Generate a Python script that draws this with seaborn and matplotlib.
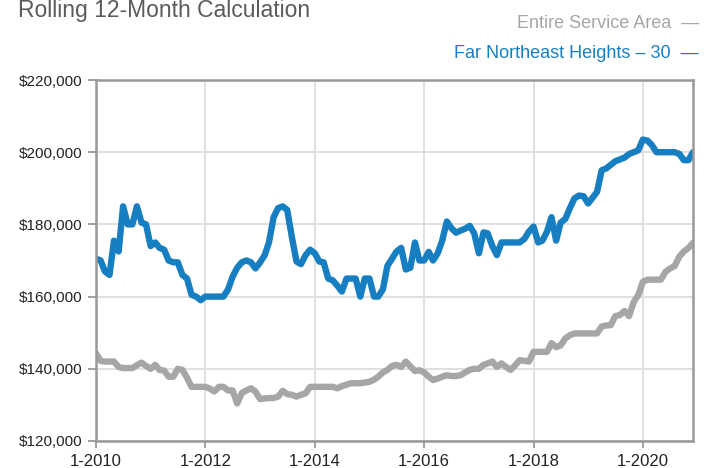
import matplotlib
matplotlib.use('Agg')
import matplotlib.pyplot as plt
import matplotlib.ticker as mticker
from matplotlib import font_manager
import seaborn as sns
import pandas as pd


months = pd.date_range('2010-01-01', periods=132, freq='MS')

# rolling 12-month median price, in $ thousands
entire_area = [
    144.3, 142.2, 142.0, 142.0, 142.0, 140.5, 140.2, 140.2, 140.2, 141.0, 141.7, 140.8,
    140.0, 141.1, 139.7, 139.5, 137.8, 137.8, 140.0, 139.7, 137.5, 135.0, 135.0, 135.0,
    135.0, 134.5, 133.7, 135.0, 135.0, 134.0, 134.0, 130.4, 133.3, 134.0, 134.6, 133.7,
    131.6, 131.8, 131.9, 131.9, 132.3, 133.9, 133.0, 132.8, 132.3, 132.8, 133.2, 135.0,
    135.0, 135.0, 135.0, 135.0, 135.0, 134.6, 135.2, 135.6, 136.0, 136.0, 136.0, 136.2,
    136.4, 137.0, 137.8, 139.0, 139.7, 140.8, 141.1, 140.5, 142.0, 140.7, 139.4, 139.6,
    139.0, 137.8, 136.9, 137.3, 137.8, 138.2, 138.0, 138.0, 138.2, 139.0, 139.7, 140.0,
    140.0, 141.1, 141.5, 142.0, 140.5, 141.5, 140.5, 139.7, 141.0, 142.4, 142.2, 142.0,
    144.7, 144.7, 144.7, 144.7, 147.1, 146.0, 146.5, 148.4, 149.3, 149.8, 149.8, 149.8,
    149.8, 149.8, 149.8, 151.7, 152.0, 152.1, 154.6, 154.9, 156.0, 154.6, 158.5, 160.4,
    164.1, 164.7, 164.7, 164.7, 164.7, 166.9, 167.8, 168.5, 171.1, 172.5, 173.5, 174.9,
]

far_ne_heights = [
    170.5, 170.0, 167.0, 166.0, 175.5, 172.5, 185.0, 180.0, 180.0, 185.0, 180.5, 180.0,
    174.0, 175.0, 173.5, 173.0, 170.0, 169.5, 169.5, 166.0, 165.0, 160.5, 160.0, 159.0,
    160.0, 160.0, 160.0, 160.0, 160.0, 162.0, 165.5, 168.0, 169.5, 170.0, 169.5, 167.8,
    169.5, 171.5, 175.0, 182.0, 184.5, 185.0, 184.0, 176.5, 169.7, 169.0, 171.5, 173.0,
    172.0, 169.7, 169.5, 165.0, 164.5, 163.0, 161.4, 165.0, 165.0, 165.0, 160.0, 165.0,
    165.0, 160.0, 160.0, 162.0, 168.5, 170.5, 172.5, 173.5, 167.5, 168.0, 175.0, 170.0,
    170.0, 172.4, 170.0, 172.0, 175.5, 180.8, 179.0, 177.7, 178.3, 178.8, 179.6, 177.5,
    172.0, 177.8, 177.5, 174.0, 171.5, 175.0, 175.0, 175.0, 175.0, 175.0, 176.0, 178.0,
    179.4, 175.0, 175.5, 178.0, 182.0, 175.5, 180.5, 181.5, 184.5, 187.2, 188.0, 187.8,
    185.8, 187.5, 189.0, 195.0, 195.5, 196.5, 197.5, 198.0, 198.5, 199.5, 200.0, 200.5,
    203.5, 203.2, 202.0, 200.0, 200.0, 200.0, 200.0, 200.0, 199.5, 197.8, 197.8, 200.0,
]

series_names = ['Entire Service Area', 'Far Northeast Heights \u2013 30']
series_colors = ['#a6a6a6', '#177fc1']
tick_years = [2010, 2012, 2014, 2016, 2018, 2020]

df = pd.concat([
    pd.DataFrame({'month': months, 'price': [v * 1000 for v in entire_area], 'area': series_names[0]}),
    pd.DataFrame({'month': months, 'price': [v * 1000 for v in far_ne_heights], 'area': series_names[1]}),
])

sns.set_style('white')
installed = {f.name for f in font_manager.fontManager.ttflist}
narrow = 'Liberation Sans Narrow' in installed
plt.rcParams['font.family'] = ['Liberation Sans', 'DejaVu Sans']
head_font = ['Liberation Sans Narrow', 'Liberation Sans'] if narrow else ['Liberation Sans']
title_size = 20 if narrow else 16.5
key_size = 16 if narrow else 13

fig = plt.figure(figsize=(7.04, 4.68), dpi=100)
ax = fig.add_axes([96 / 704, 1 - 441 / 468, (693 - 96) / 704, (441 - 80) / 468])

sns.lineplot(data=df, x='month', y='price', hue='area', hue_order=series_names,
             palette=series_colors, linewidth=4.6, legend=False, ax=ax,
             solid_joinstyle='round', solid_capstyle='round')

ax.set_xlim(months[0], months[-1])
ax.set_ylim(120000, 220000)
ax.set_yticks(range(120000, 220001, 20000))
ax.yaxis.set_major_formatter(mticker.StrMethodFormatter('${x:,.0f}'))
ax.set_xticks([pd.Timestamp(f'{y}-01-01') for y in tick_years])
ax.set_xticklabels([f'1-{y}' for y in tick_years])
ax.set_xlabel('')
ax.set_ylabel('')

ax.grid(True, color='#dddddd', linewidth=1.3)
ax.set_axisbelow(True)
for side in ['left', 'bottom', 'right', 'top']:
    ax.spines[side].set_visible(True)
    ax.spines[side].set_color('#999999')
    ax.spines[side].set_linewidth(1.8)
ax.tick_params(axis='y', length=6, width=1.3, color='#999999', pad=4,
               labelsize=11, labelcolor='#222222', left=True)
ax.tick_params(axis='x', length=5, width=1.3, color='#999999', pad=4,
               labelsize=12, labelcolor='#222222', bottom=True)

fig.text(18 / 704, 1 - 17 / 468, 'Rolling 12-Month Calculation', ha='left', va='baseline',
         fontsize=title_size, color='#5a5a5a', family=head_font)
fig.text(699 / 704, 1 - 28 / 468, series_names[0] + '  \u2014', ha='right', va='baseline',
         fontsize=key_size, color=series_colors[0], family=head_font)
fig.text(699 / 704, 1 - 58 / 468, series_names[1] + '  \u2014', ha='right', va='baseline',
         fontsize=key_size, color=series_colors[1], family=head_font)

fig.savefig('out.png', dpi=100)
